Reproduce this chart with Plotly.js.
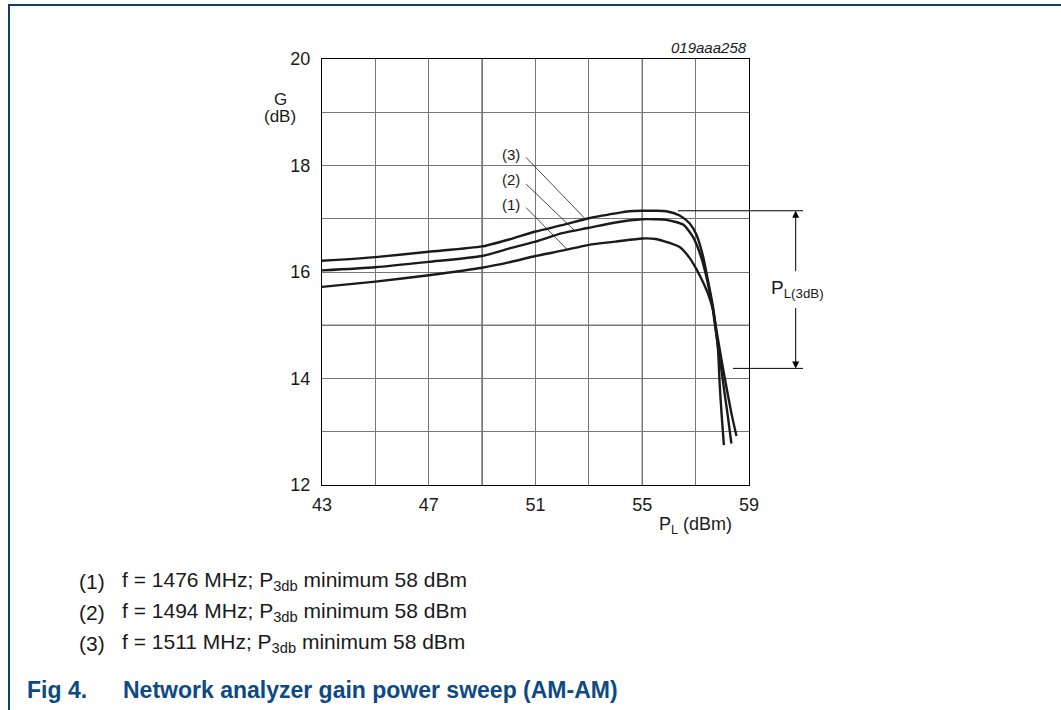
<!DOCTYPE html>
<html>
<head>
<meta charset="utf-8">
<script src="https://cdn.plot.ly/plotly-3.0.1.min.js"></script>
<style>
html,body{margin:0;padding:0;background:#fff;}
#wrap{position:relative;width:1061px;height:710px;overflow:hidden;}
#chart{position:absolute;left:0;top:0;width:1061px;height:710px;}
#frame{position:absolute;left:8px;top:4px;right:-5px;bottom:-5px;border-left:2px solid #0d3f6e;border-top:2px solid #0d3f6e;pointer-events:none;}
</style>
</head>
<body>
<div id="wrap"><div id="chart"></div><div id="frame"></div></div>
<script>
// ---- data ----
const curve1_x = [43, 45, 47, 49, 50, 51, 52, 53, 54, 55, 55.5, 55.8, 56.4, 56.78, 57.15, 57.46, 57.65, 57.8, 57.97, 58.15, 58.34, 58.53];
const curve1_g = [15.72, 15.82, 15.94, 16.08, 16.18, 16.30, 16.40, 16.51, 16.57, 16.63, 16.62, 16.58, 16.47, 16.26, 15.94, 15.60, 15.29, 14.85, 14.35, 13.85, 13.35, 12.92];

const curve2_x = [43, 45, 47, 49, 50, 51, 52, 53, 54, 55, 55.5, 55.9, 56.53, 56.9, 57.22, 57.43, 57.63, 57.75, 57.9, 58.05, 58.21, 58.34];
const curve2_g = [16.03, 16.09, 16.19, 16.30, 16.44, 16.57, 16.73, 16.83, 16.93, 16.99, 16.99, 16.98, 16.89, 16.66, 16.26, 15.85, 15.35, 14.91, 14.41, 13.85, 13.28, 12.78];

const curve3_x = [43, 45, 47, 49, 50, 51, 52, 53, 54, 54.5, 55, 55.5, 55.9, 56.4, 56.78, 57.03, 57.28, 57.46, 57.65, 57.75, 57.84, 57.9, 57.97, 58.06];
const curve3_g = [16.21, 16.28, 16.38, 16.48, 16.61, 16.76, 16.88, 17.01, 17.10, 17.14, 17.15, 17.15, 17.14, 17.06, 16.91, 16.70, 16.29, 15.85, 15.35, 14.97, 14.54, 13.91, 13.35, 12.75];

const xTickVals = [43, 47, 51, 55, 59];
const yTickVals = [12, 14, 16, 18, 20];
const curveLabels = ['(1)', '(2)', '(3)'];
const legendTexts = [
  'f = 1476 MHz; P<sub>3db</sub> minimum 58 dBm',
  'f = 1494 MHz; P<sub>3db</sub> minimum 58 dBm',
  'f = 1511 MHz; P<sub>3db</sub> minimum 58 dBm'
];
const p3dbTop = 17.15, p3dbBottom = 14.19;

// ---- layout helpers ----
const W = 1061, H = 710;
const M = {l: 322, r: 312, t: 59, b: 225};
const PW = W - M.l - M.r, PH = H - M.t - M.b;
const px2x = p => (p - M.l) / PW;            // pixel -> paper x
const px2y = p => 1 - (p - M.t) / PH;        // pixel -> paper y
const FONT = '"Liberation Sans", Arial, sans-serif';
const INK = '#1a1a1a';
const BLUE = '#0d4a85';

const line = {color: INK, width: 2.4, shape: 'spline', smoothing: 0.6};
const traces = [
  {x: curve1_x, y: curve1_g, mode: 'lines', line: line, hoverinfo: 'skip'},
  {x: curve2_x, y: curve2_g, mode: 'lines', line: line, hoverinfo: 'skip'},
  {x: curve3_x, y: curve3_g, mode: 'lines', line: line, hoverinfo: 'skip'}
];

const shapes = [];
// darker grid lines
[49, 55].forEach(v => shapes.push({type:'line', xref:'x', yref:'paper', x0:v, x1:v, y0:0, y1:1, line:{color:'#000', width:1}, layer:'below'}));
[15, 18].forEach(v => shapes.push({type:'line', xref:'paper', yref:'y', x0:0, x1:1, y0:v, y1:v, line:{color:'#000', width:1}, layer:'below'}));
// leader lines
const leaders = [
  [50.65, 17.21, 52.21, 16.41],
  [50.65, 17.65, 52.46, 16.78],
  [50.65, 18.15, 52.84, 17.01]
];
leaders.forEach(l => shapes.push({type:'line', xref:'x', yref:'y', x0:l[0], y0:l[1], x1:l[2], y1:l[3], line:{color:INK, width:0.8}}));
// P_L(3dB) reference lines
shapes.push({type:'line', xref:'paper', yref:'y', x0:px2x(678), x1:px2x(803), y0:p3dbTop, y1:p3dbTop, line:{color:'#000', width:1}});
shapes.push({type:'line', xref:'paper', yref:'y', x0:px2x(733), x1:px2x(803), y0:p3dbBottom, y1:p3dbBottom, line:{color:'#000', width:1}});

const annotations = [];
function txt(px, py, text, size, opts) {
  annotations.push(Object.assign({
    xref:'paper', yref:'paper', x:px2x(px), y:px2y(py), text:text, showarrow:false,
    xanchor:'center', yanchor:'middle', font:{family:FONT, size:size, color:INK}
  }, opts || {}));
}
curveLabels.forEach((t, i) => annotations.push({
  xref:'x', yref:'y', x:50.10, y:[17.27, 17.73, 18.21][i], text:t, showarrow:false,
  xanchor:'center', yanchor:'middle',
  font:{family:FONT, size:15, color:INK}, bgcolor:'#fff', borderpad:1
}));
// arrows
const ax = px2x(795.7);
annotations.push({xref:'paper', yref:'y', x:ax, y:p3dbTop, ax:0, ay:62, text:'', showarrow:true, arrowhead:2, arrowsize:1.4, arrowwidth:1, arrowcolor:'#000', standoff:0});
annotations.push({xref:'paper', yref:'y', x:ax, y:p3dbBottom, ax:0, ay:-62, text:'', showarrow:true, arrowhead:2, arrowsize:1.4, arrowwidth:1, arrowcolor:'#000', standoff:0});
txt(797, 289, 'P<sub>L(3dB)</sub>', 19);
// axis titles
txt(280, 100, 'G', 17);
txt(280, 117, '(dB)', 17);
txt(734, 525, 'P<sub>L</sub> (dBm)', 18, {xanchor:'right'});
txt(749, 47, '<i>019aaa258</i>', 15, {xanchor:'right'});
// legend notes
const rowY = [581, 612, 643];
legendTexts.forEach((t, i) => {
  txt(77, rowY[i], curveLabels[i], 21, {xanchor:'left'});
  txt(120, rowY[i], t, 21, {xanchor:'left'});
});
txt(25, 690, '<b>Fig 4.</b>', 23, {xanchor:'left', font:{family:FONT, size:23, color:BLUE}});
txt(121, 690, '<b>Network analyzer gain power sweep (AM-AM)</b>', 23, {xanchor:'left', font:{family:FONT, size:23, color:BLUE}});

const layout = {
  width: W, height: H, margin: M, showlegend: false,
  paper_bgcolor: '#fff', plot_bgcolor: '#fff',
  font: {family: FONT, size: 18, color: INK},
  xaxis: {
    range: [43, 59], tickvals: xTickVals, ticktext: xTickVals.map(String),
    showgrid: true, gridcolor: '#777', gridwidth: 1,
    minor: {dtick: 2, tick0: 43, showgrid: true, gridcolor: '#777', gridwidth: 1, ticks: ''},
    ticks: '', showline: true, linecolor: '#000', linewidth: 1.2, mirror: true,
    zeroline: false, fixedrange: true, ticklabelstandoff: 3,
    tickfont: {family: FONT, size: 18, color: INK}
  },
  yaxis: {
    range: [12, 20], tickvals: yTickVals, ticktext: yTickVals.map(String),
    showgrid: true, gridcolor: '#777', gridwidth: 1,
    minor: {dtick: 1, tick0: 12, showgrid: true, gridcolor: '#777', gridwidth: 1, ticks: ''},
    ticks: '', showline: true, linecolor: '#000', linewidth: 1.2, mirror: true,
    zeroline: false, fixedrange: true, ticklabelstandoff: 7,
    tickfont: {family: FONT, size: 18, color: INK}
  },
  shapes: shapes, annotations: annotations
};
Plotly.newPlot('chart', traces, layout, {displayModeBar: false, staticPlot: true});
</script>
</body>
</html>
